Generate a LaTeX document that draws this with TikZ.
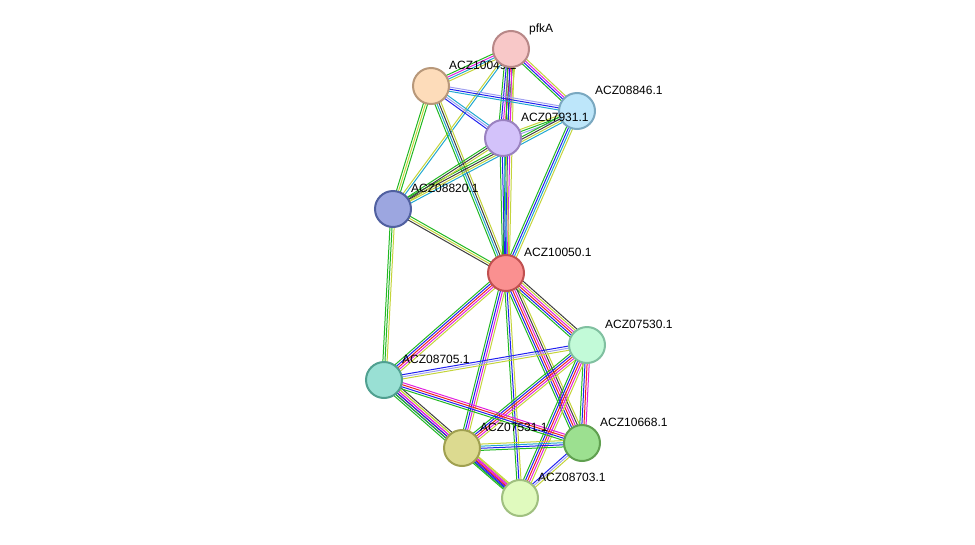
\documentclass[tikz,border=0pt]{standalone}
\usepackage{fontspec}
\setmainfont{Liberation Sans}
\usetikzlibrary{calc}
\definecolor{eg}{HTML}{22B822}
\definecolor{eb}{HTML}{2020F0}
\definecolor{em}{HTML}{E020E0}
\definecolor{ey}{HTML}{C4D43A}
\definecolor{ek}{HTML}{404040}
\definecolor{ec}{HTML}{22A8D0}
\definecolor{er}{HTML}{F02020}
\definecolor{el}{HTML}{A0A0F0}
\newcommand\edge[3]{%
  \foreach \c [count=\k] in {#3}{\xdef\ecount{\k}}%
  \foreach \c [count=\k] in {#3}{%
    \pgfmathsetmacro\off{(\k-(\ecount+1)/2)*2.1}%
    \draw[\c,line width=1pt] ($(#1)!\off pt!90:(#2)$) -- ($(#2)!\off pt!-90:(#1)$);}}
\tikzset{
  prot/.style 2 args={circle,minimum size=36pt,inner sep=0pt,line width=2pt,
    fill/.expanded={#1},draw/.expanded={#2}},
  lbl/.style={anchor=base west,font=\fontsize{12}{12}\selectfont,inner sep=0pt}
}
\newcommand\hx[1]{\definecolor{h#1}{HTML}{#1}}
\hx{F8C8C8}\hx{B88888}\hx{FDDCBA}\hx{B8987A}\hx{BDE6FA}\hx{7AA8C0}\hx{D3C2FA}\hx{9A82C0}
\hx{9CA6E0}\hx{5060A0}\hx{FA9090}\hx{C05050}\hx{C2FAD8}\hx{80C0A0}\hx{99E0D4}\hx{50A090}
\hx{DCDA90}\hx{A0A050}\hx{9CE090}\hx{60A050}\hx{E0FABE}\hx{A0C080}
\begin{document}
\begin{tikzpicture}[x=1pt,y=-1pt]
\useasboundingbox (0,0) rectangle (975,544);
% centres
\coordinate (pfka) at (511,49);
\coordinate (a1004) at (431,86);
\coordinate (a8846) at (577,111);
\coordinate (a7931) at (503,138);
\coordinate (a8820) at (393,209);
\coordinate (a0050) at (506,273);
\coordinate (a7530) at (587,345);
\coordinate (a8705) at (384,380);
\coordinate (a7531) at (462,448);
\coordinate (a0668) at (582,443);
\coordinate (a8703) at (520,498);
% edges
\edge{pfka}{a1004}{eg,em,ec,ey}
\edge{pfka}{a8846}{eg,eb,em,ey}
\edge{pfka}{a7931}{eg,eb,em,er,eg,ey}
\edge{pfka}{a8820}{ey,ec}
\edge{pfka}{a0050}{eg,eb,em,ey}
\edge{a1004}{a8846}{ec,eb,el}
\edge{a1004}{a7931}{eb,el,ec}
\edge{a1004}{a8820}{eg,ey,eg}
\edge{a1004}{a0050}{eg,ec,ek,ey}
\edge{a8846}{a7931}{ey,eg,el}
\edge{a8846}{a8820}{eg,ek,ey,ec}
\edge{a8846}{a0050}{eg,eb,ec,ey}
\edge{a7931}{a8820}{eg,ek,ey}
\edge{a7931}{a0050}{eg,eb,ec,ey}
\edge{a8820}{a0050}{ek,ey,eg}
\edge{a8820}{a8705}{eg,eg,ey}
\edge{a0050}{a7530}{eg,eb,er,em,ey,ek}
\edge{a0050}{a8705}{eg,eb,er,em,ey}
\edge{a0050}{a7531}{eg,eb,em,ey}
\edge{a0050}{a0668}{eg,eb,er,em,ek,ey}
\edge{a0050}{a8703}{eg,eb,ey}
\edge{a7530}{a8705}{eb,el,ey}
\edge{a7530}{a7531}{eg,eb,er,em,ey}
\edge{a7530}{a0668}{eg,eb,er,em}
\edge{a7530}{a8703}{eg,eb,er,em,ey}
\edge{a8705}{a7531}{eg,eb,er,em,ey,ek}
\edge{a8705}{a0668}{eg,eb,er,em}
\edge{a8705}{a8703}{eg,eb,em,ey}
\edge{a7531}{a0668}{eg,eb,ec,ey}
\edge{a7531}{a8703}{eg,eb,er,em,ey}
\edge{a0668}{a8703}{eb,el,ey}
% label hidden behind pfkA
\node[lbl] (t1004) at ($(a1004)+(18,-17)$) {ACZ10049.1};
% nodes
\node[prot={hF8C8C8}{hB88888}] (npfka) at (pfka) {};
\node[prot={hFDDCBA}{hB8987A}] (n1004) at (a1004) {};
\node[prot={hBDE6FA}{h7AA8C0}] (n8846) at (a8846) {};
\node[prot={hD3C2FA}{h9A82C0}] (n7931) at (a7931) {};
\node[prot={h9CA6E0}{h5060A0}] (n8820) at (a8820) {};
\node[prot={hFA9090}{hC05050}] (n0050) at (a0050) {};
\node[prot={hC2FAD8}{h80C0A0}] (n7530) at (a7530) {};
\node[prot={h99E0D4}{h50A090}] (n8705) at (a8705) {};
\node[prot={hDCDA90}{hA0A050}] (n7531) at (a7531) {};
\node[prot={h9CE090}{h60A050}] (n0668) at (a0668) {};
\node[prot={hE0FABE}{hA0C080}] (n8703) at (a8703) {};
% labels
\node[lbl] (tpfka) at ($(pfka)+(18,-17)$) {pfkA};
\node[lbl] (t8846) at ($(a8846)+(18,-17)$) {ACZ08846.1};
\node[lbl] (t7931) at ($(a7931)+(18,-17)$) {ACZ07931.1};
\node[lbl] (t8820) at ($(a8820)+(18,-17)$) {ACZ08820.1};
\node[lbl] (t0050) at ($(a0050)+(18,-17)$) {ACZ10050.1};
\node[lbl] (t7530) at ($(a7530)+(18,-17)$) {ACZ07530.1};
\node[lbl] (t8705) at ($(a8705)+(18,-17)$) {ACZ08705.1};
\node[lbl] (t7531) at ($(a7531)+(18,-17)$) {ACZ07531.1};
\node[lbl] (t0668) at ($(a0668)+(18,-17)$) {ACZ10668.1};
\node[lbl] (t8703) at ($(a8703)+(18,-17)$) {ACZ08703.1};
\end{tikzpicture}
\end{document}
